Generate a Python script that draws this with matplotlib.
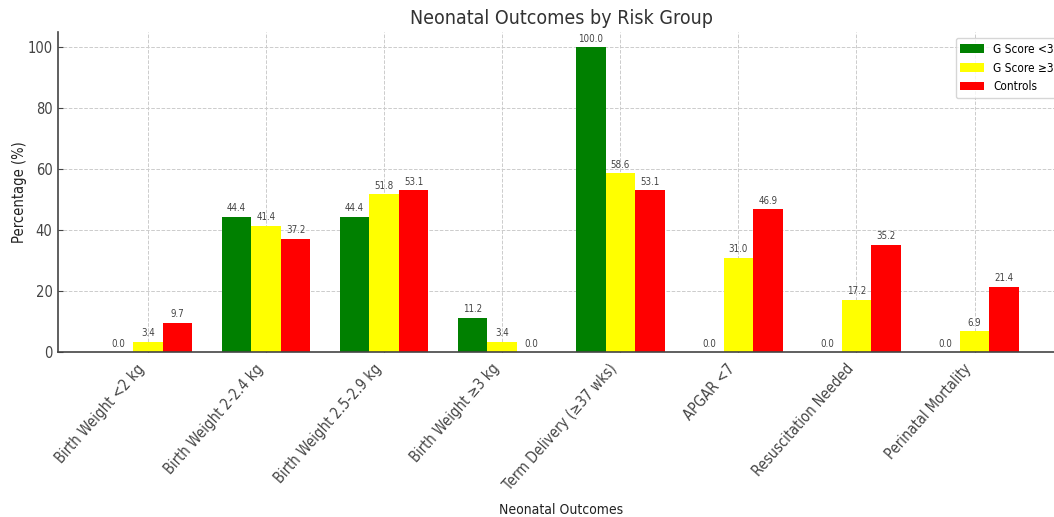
import numpy as np
import matplotlib
matplotlib.use("Agg")
import matplotlib.pyplot as plt
from matplotlib import font_manager as fm

categories = [
    "Birth Weight <2 kg",
    "Birth Weight 2-2.4 kg",
    "Birth Weight 2.5-2.9 kg",
    "Birth Weight \u22653 kg",
    "Term Delivery (\u226537 wks)",
    "APGAR <7",
    "Resuscitation Needed",
    "Perinatal Mortality",
]
g_low = [0.0, 44.4, 44.4, 11.2, 100.0, 0.0, 0.0, 0.0]
g_high = [3.4, 41.4, 51.8, 3.4, 58.6, 31.0, 17.2, 6.9]
controls = [9.7, 37.2, 53.1, 0.0, 53.1, 46.9, 35.2, 21.4]
series_names = ["G Score <3", "G Score \u22653", "Controls"]
colors = ["green", "yellow", "red"]

plt.rcParams["font.family"] = "DejaVu Sans"
# use the condensed cut of DejaVu Sans when it is available
if any(f.name == "DejaVu Sans" and f.stretch == "condensed" for f in fm.fontManager.ttflist):
    plt.rcParams["font.stretch"] = "condensed"

fig = plt.figure(figsize=(10.54, 5.17), dpi=100)
ax = fig.add_axes([0.055, 0.319, 0.955, 0.619])

x = np.arange(len(categories))
width = 0.25
for i, (vals, name, col) in enumerate(zip([g_low, g_high, controls], series_names, colors)):
    bars = ax.bar(x + (i - 1) * width, vals, width, label=name, color=col, zorder=2)
    for b, v in zip(bars, vals):
        ax.annotate(f"{v:.1f}", (b.get_x() + b.get_width() / 2, b.get_height()),
                    xytext=(0, 2.5), textcoords="offset points", ha="center", va="bottom",
                    fontsize=7, color="#444444")

ax.set_xticks(x)
ax.set_xticklabels(categories, rotation=48.5, ha="right", rotation_mode="default",
                   fontsize=10.5, color="#222222")
ax.tick_params(axis="y", labelsize=10.5, labelcolor="#222222")
ax.tick_params(axis="both", colors="#444444", direction="in", length=3.5, pad=4)
ax.tick_params(axis="x", pad=6.5)
ax.set_ylim(0, 105)
ax.set_title("Neonatal Outcomes by Risk Group", fontsize=14, color="#333333")
ax.set_ylabel("Percentage (%)", fontsize=10.5, color="#222222", labelpad=0.5)
ax.set_xlabel("Neonatal Outcomes", fontsize=10, color="#222222", labelpad=7)
ax.grid(True, linestyle="--", color="#cccccc", linewidth=0.7, zorder=0)
ax.set_axisbelow(True)
for s in ["top", "right"]:
    ax.spines[s].set_visible(False)
for s in ["left", "bottom"]:
    ax.spines[s].set_color("#444444")
    ax.spines[s].set_linewidth(1.2)

leg = ax.legend(loc="upper right", fontsize=8.5, frameon=True, fancybox=True)
leg.get_frame().set_edgecolor("#cccccc")

fig.savefig("out.png", dpi=100)
